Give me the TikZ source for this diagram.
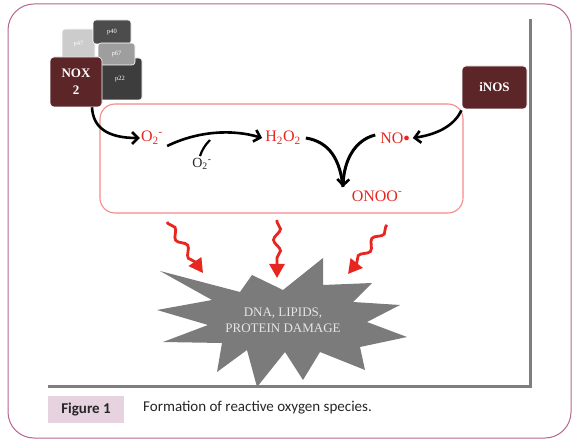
\documentclass[tikz,border=0pt]{standalone}
\usepackage{fontspec}
\setmainfont{Liberation Serif}
\newfontfamily\capfont{Carlito}
\usetikzlibrary{arrows.meta,decorations.pathmorphing}
\definecolor{framecol}{HTML}{B5668F}
\definecolor{boxred}{HTML}{F28B8B}
\definecolor{maroon}{HTML}{5C2628}
\definecolor{linegray}{HTML}{7F7F7F}
\definecolor{burstgray}{HTML}{7B7B7B}
\definecolor{labelpink}{HTML}{E7D3DF}
\definecolor{txtred}{HTML}{E8261F}
\tikzset{
  pbox/.style={rounded corners=3pt, draw=white, line width=0.6pt, inner sep=0pt, text=white, font=\fontsize{6.5}{7}\selectfont},
  ebox/.style={rounded corners=4pt, fill=maroon, draw=white, line width=0.6pt, inner sep=0pt, text=white, font=\bfseries\fontsize{13}{14}\selectfont, align=center},
  chem/.style={text=txtred, inner sep=1pt, font=\fontsize{16}{18}\selectfont},
  blackarrow/.style={draw=black, line width=2.6pt, -{Straight Barb[length=6pt,width=12pt,line width=2.6pt]}},
  redwave/.style={draw=txtred, line width=2.8pt, decorate, decoration={snake, amplitude=3.5pt, segment length=22pt, pre length=2pt, post length=13pt}, -{Triangle[length=14pt,width=15pt]}}
}
\newcommand{\oxsup}{O\textsubscript{2}\textsuperscript{-}}
\begin{document}
\begin{tikzpicture}[x=1pt,y=-1pt]
\useasboundingbox (0,0) rectangle (575,443);
% outer frame
\draw[framecol, line width=1pt, rounded corners=26pt] (8,4) rectangle (571,438);
% gray figure borders
\draw[linegray, line width=3pt, line join=miter] (48,386) -- (530,386) -- (530,19);
% caption
\node[fill=labelpink, minimum width=76pt, minimum height=27pt, inner sep=0pt, font=\capfont\bfseries\fontsize{15}{17}\selectfont, text=black!85] (figlab) at (86,409.5) {Figure 1};
\node[anchor=west, inner sep=0pt, font=\capfont\fontsize{15}{17}\selectfont, text=black!85] (caption) at (143,408) {Formation of reactive oxygen species.};
% NOX2 complex
\node[pbox, fill=black!20, minimum width=33pt, minimum height=31pt] (p47) at (78.5,44.5) {p47};
\node[pbox, fill=black!70, minimum width=38pt, minimum height=24pt] (p40) at (112,32) {p40};
\node[pbox, fill=black!76, minimum width=44pt, minimum height=42pt] (p22) at (120,79) {p22};
\node[pbox, fill=black!38, minimum width=37pt, minimum height=22pt] (p67) at (116.5,54) {p67};
\node[ebox, minimum width=52pt, minimum height=50pt] (nox) at (76,82) {NOX\\[3pt]2};
% iNOS
\node[ebox, minimum width=65pt, minimum height=43pt] (inos) at (494.5,87.5) {iNOS};
% reaction box
\draw[boxred, line width=1.1pt, rounded corners=15pt] (100,104) rectangle (463,213);
% species
\node[chem] (o2) at (152,138) {\oxsup};
\node[chem] (h2o2) at (283,138) {H\textsubscript{2}O\textsubscript{2}};
\node[chem] (no) at (395,138) {NO\raisebox{2pt}{\scalebox{0.7}{$\bullet$}}};
\node[chem] (onoo) at (377,196) {ONOO\textsuperscript{-}};
\node[inner sep=1pt, font=\fontsize{14}{16}\selectfont, text=black!85] (o2b) at (202,164) {\oxsup};
\coordinate (vtip) at (343,187);
% black arrows
\draw[blackarrow] ([xshift=16pt]nox.south) .. controls (93,128) and (108,138) .. (o2.west);
\draw[blackarrow] (o2.east) ++(3,8) .. controls (198,131) and (232,129) .. ([xshift=-2pt]h2o2.west);
\draw[draw=black, line width=2.2pt] (o2b.north) ++(-2,-1) .. controls (202,150) and (205,145) .. (210,140);
\draw[blackarrow] ([xshift=-33pt,yshift=-1pt]inos.south) .. controls (455,124) and (440,134) .. ([xshift=2pt]no.east);
\draw[draw=black, line width=3pt] (h2o2.east) ++(4,0) .. controls (330,142) and (340,160) .. (vtip);
\draw[blackarrow, line width=3pt] (no.west) ++(-4,-3) .. controls (355,140) and (344,160) .. (vtip);
% starburst
\fill[burstgray] (160,271) -- (240,292) -- (252,275) -- (283,290) -- (323,258) -- (323,285)
  -- (372,283) -- (353,302) -- (400,305) -- (367,322) -- (407,337) -- (360,347) -- (365,370)
  -- (320,352) -- (303,380) -- (285,352) -- (257,387) -- (247,350) -- (217,372) -- (222,343)
  -- (163,342) -- (208,325) -- (157,310) -- (212,300) -- cycle;
\node[align=center, text=black!10, font=\fontsize{13}{16}\selectfont, inner sep=0pt] (damage) at (283,320) {DNA, LIPIDS,\\PROTEIN DAMAGE};
% red wavy arrows
\coordinate (w1) at (167,222);
\coordinate (w2) at (277,220);
\coordinate (w3) at (387,225);
\draw[redwave] (w1) -- (203,273);
\draw[redwave] (w2) -- (277,278);
\draw[redwave] (w3) -- (348,274);
\end{tikzpicture}
\end{document}
